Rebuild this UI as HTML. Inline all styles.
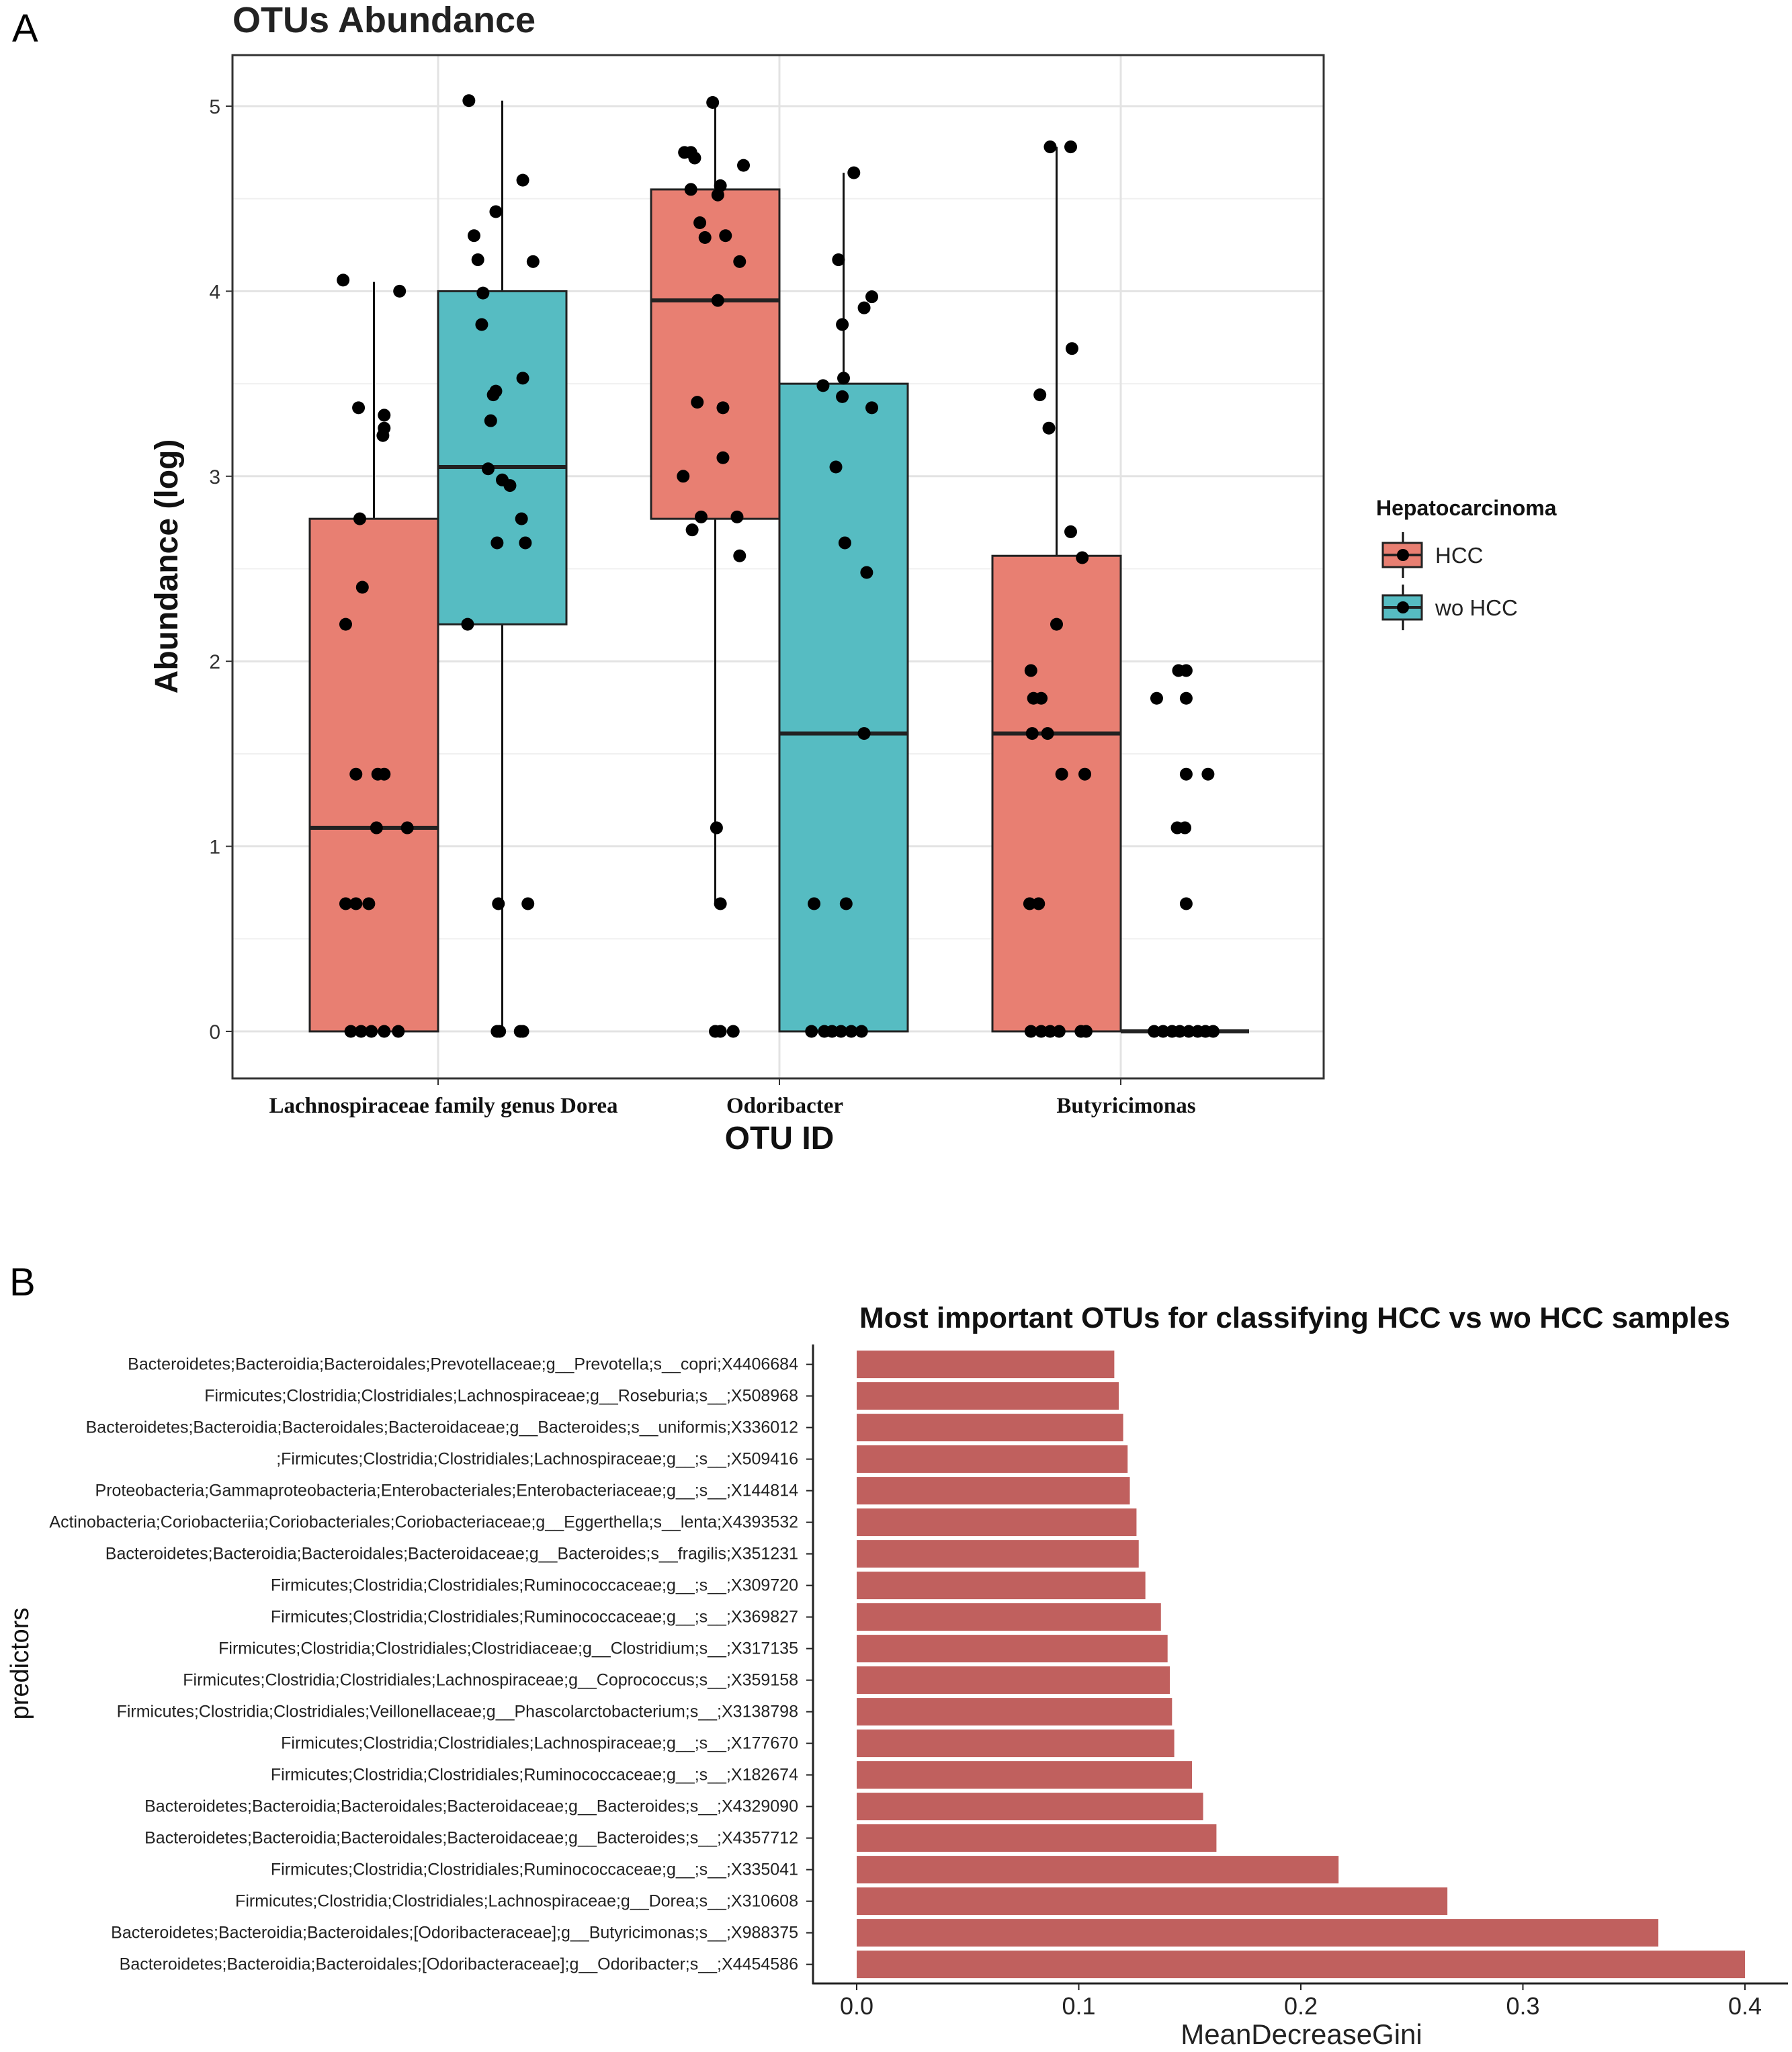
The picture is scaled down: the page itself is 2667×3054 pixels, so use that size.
<!DOCTYPE html>
<html><head><meta charset="utf-8">
<style>
html,body{margin:0;padding:0;background:#fff;}
svg{display:block;font-family:"Liberation Sans",sans-serif;}
</style></head>
<body>
<svg id="chart" width="2667" height="3054" viewBox="0 0 2667 3054" xmlns="http://www.w3.org/2000/svg">
<text x="18" y="62" font-size="58">A</text>
<text x="346" y="48" font-size="54" font-weight="bold" fill="#222">OTUs Abundance</text>
<g id="panelA"></g>
<text transform="translate(264,843) rotate(-90)" text-anchor="middle" font-size="48" font-weight="bold" fill="#111">Abundance (log)</text>
<text x="1160" y="1710" text-anchor="middle" font-size="48" font-weight="bold" fill="#111">OTU ID</text>
<g>
<text x="2048" y="767" font-size="32" font-weight="bold" fill="#111">Hepatocarcinoma</text>
<g>
<line x1="2088" y1="792" x2="2088" y2="860" stroke="#111" stroke-width="3"/>
<rect x="2058" y="808" width="58" height="36" fill="#e87f72" stroke="#222" stroke-width="3"/>
<line x1="2058" y1="826" x2="2116" y2="826" stroke="#222" stroke-width="4"/>
<circle cx="2088" cy="826" r="9" fill="#000"/>
<text x="2136" y="838" font-size="33" fill="#222">HCC</text></g>
<g>
<line x1="2088" y1="870" x2="2088" y2="938" stroke="#111" stroke-width="3"/>
<rect x="2058" y="886" width="58" height="36" fill="#56bcc2" stroke="#222" stroke-width="3"/>
<line x1="2058" y1="904" x2="2116" y2="904" stroke="#222" stroke-width="4"/>
<circle cx="2088" cy="904" r="9" fill="#000"/>
<text x="2136" y="916" font-size="33" fill="#222">wo HCC</text></g>
</g>
<text x="14" y="1928" font-size="58">B</text>
<text x="1279" y="1976" font-size="44" font-weight="bold" fill="#111">Most important OTUs for classifying HCC vs wo HCC samples</text>
<g id="panelB"></g>
<text transform="translate(42,2476) rotate(-90)" text-anchor="middle" font-size="38" fill="#111">predictors</text>
<text x="1937" y="3042" text-anchor="middle" font-size="42" fill="#222">MeanDecreaseGini</text>
</svg>
<script>
// ---------- Panel A data ----------
const categories = ["Lachnospiraceae family genus Dorea","Odoribacter","Butyricimonas"];
const groups = ["HCC","wo HCC"];
const yTicks = [0,1,2,3,4,5];
// box stats per [category][group]: [whiskerLow, q1, median, q3, whiskerHigh]
const boxHCC = [[0,0,1.1,2.77,4.05],[0.69,2.77,3.95,4.55,5.02],[0,0,1.61,2.57,4.78]];
const boxWo  = [[0,2.2,3.05,4.0,5.03],[0,0,1.61,3.5,4.64],[0,0,0,0,0]];
const ptsHCC_vals = [
 [4.06,3.37,3.33,3.22,3.26,4.0,2.77,2.4,2.2,1.39,1.39,1.39,1.1,1.1,0.69,0.69,0.69,0,0,0,0,0],
 [5.02,4.75,4.75,4.72,4.68,4.55,4.57,4.52,4.37,4.29,4.3,4.16,3.95,3.4,3.37,3.0,3.1,2.78,2.78,2.71,2.57,1.1,0.69,0,0,0],
 [4.78,4.78,3.44,3.69,3.26,2.7,2.56,2.2,1.95,1.8,1.8,1.61,1.61,1.39,1.39,0.69,0.69,0,0,0,0,0,0]];
const ptsHCC_jit = [
 [-0.24,-0.12,0.08,0.07,0.08,0.2,-0.11,-0.09,-0.22,-0.14,0.03,0.08,0.02,0.26,-0.22,-0.14,-0.04,-0.18,-0.1,-0.02,0.08,0.19],
 [-0.02,-0.24,-0.19,-0.16,0.22,-0.19,0.04,0.02,-0.12,-0.08,0.08,0.19,0.02,-0.14,0.06,-0.25,0.06,-0.11,0.17,-0.18,0.19,0.01,0.04,0,0.04,0.14],
 [-0.05,0.11,-0.13,0.12,-0.06,0.11,0.2,0,-0.2,-0.18,-0.12,-0.19,-0.07,0.04,0.22,-0.21,-0.14,-0.2,-0.12,-0.05,0.02,0.19,0.23]];
const ptsWo_vals = [
 [5.03,4.6,4.43,4.3,4.17,4.16,3.99,3.82,3.53,3.44,3.46,3.3,3.04,2.98,2.95,2.77,2.64,2.64,2.2,0.69,0.69,0,0,0,0],
 [4.64,4.17,3.82,3.97,3.91,3.53,3.43,3.49,3.37,3.05,2.64,2.48,1.61,0.69,0.69,0,0,0,0,0,0],
 [1.95,1.95,1.8,1.8,1.39,1.39,1.1,1.1,0.69,0,0,0,0,0,0,0,0]];
const ptsWo_jit = [
 [-0.26,0.16,-0.05,-0.22,-0.19,0.24,-0.15,-0.16,0.16,-0.07,-0.05,-0.09,-0.11,0,0.06,0.15,-0.04,0.18,-0.27,-0.03,0.2,-0.04,-0.02,0.14,0.16],
 [0.08,-0.04,-0.01,0.22,0.16,0,-0.01,-0.16,0.22,-0.06,0.01,0.18,0.16,-0.23,0.02,-0.25,-0.15,-0.09,-0.02,0.06,0.14],
 [-0.05,0.01,-0.22,0.01,0.01,0.18,-0.06,0,0.01,-0.24,-0.17,-0.1,-0.04,0.03,0.1,0.16,0.22]];

// ---------- Panel B data ----------
const predictors = [
"Bacteroidetes;Bacteroidia;Bacteroidales;Prevotellaceae;g__Prevotella;s__copri;X4406684",
"Firmicutes;Clostridia;Clostridiales;Lachnospiraceae;g__Roseburia;s__;X508968",
"Bacteroidetes;Bacteroidia;Bacteroidales;Bacteroidaceae;g__Bacteroides;s__uniformis;X336012",
";Firmicutes;Clostridia;Clostridiales;Lachnospiraceae;g__;s__;X509416",
"Proteobacteria;Gammaproteobacteria;Enterobacteriales;Enterobacteriaceae;g__;s__;X144814",
"Actinobacteria;Coriobacteriia;Coriobacteriales;Coriobacteriaceae;g__Eggerthella;s__lenta;X4393532",
"Bacteroidetes;Bacteroidia;Bacteroidales;Bacteroidaceae;g__Bacteroides;s__fragilis;X351231",
"Firmicutes;Clostridia;Clostridiales;Ruminococcaceae;g__;s__;X309720",
"Firmicutes;Clostridia;Clostridiales;Ruminococcaceae;g__;s__;X369827",
"Firmicutes;Clostridia;Clostridiales;Clostridiaceae;g__Clostridium;s__;X317135",
"Firmicutes;Clostridia;Clostridiales;Lachnospiraceae;g__Coprococcus;s__;X359158",
"Firmicutes;Clostridia;Clostridiales;Veillonellaceae;g__Phascolarctobacterium;s__;X3138798",
"Firmicutes;Clostridia;Clostridiales;Lachnospiraceae;g__;s__;X177670",
"Firmicutes;Clostridia;Clostridiales;Ruminococcaceae;g__;s__;X182674",
"Bacteroidetes;Bacteroidia;Bacteroidales;Bacteroidaceae;g__Bacteroides;s__;X4329090",
"Bacteroidetes;Bacteroidia;Bacteroidales;Bacteroidaceae;g__Bacteroides;s__;X4357712",
"Firmicutes;Clostridia;Clostridiales;Ruminococcaceae;g__;s__;X335041",
"Firmicutes;Clostridia;Clostridiales;Lachnospiraceae;g__Dorea;s__;X310608",
"Bacteroidetes;Bacteroidia;Bacteroidales;[Odoribacteraceae];g__Butyricimonas;s__;X988375",
"Bacteroidetes;Bacteroidia;Bacteroidales;[Odoribacteraceae];g__Odoribacter;s__;X4454586"];
const giniValues = [0.116,0.118,0.120,0.122,0.123,0.126,0.127,0.130,0.137,0.140,0.141,0.142,0.143,0.151,0.156,0.162,0.217,0.266,0.361,0.400];
const giniTicks = [0.0,0.1,0.2,0.3,0.4];
const giniTickLabels = ["0.0","0.1","0.2","0.3","0.4"];

const NS="http://www.w3.org/2000/svg";
function mk(tag,attrs,parent,text){const e=document.createElementNS(NS,tag);for(const k in attrs)e.setAttribute(k,attrs[k]);if(text!==undefined)e.textContent=text;parent.appendChild(e);return e;}

(function(){
 const g=document.getElementById('panelA');
 const L=346,R=1970,T=82,B=1605;
 const yS=v=>1535-v*275.4;
 const catX=i=>652+i*508;
 const bw=191;
 const bg=mk('rect',{x:L,y:T,width:R-L,height:B-T,fill:'#fff'},g);
 
 
 for(let v=0.5;v<=5.3;v+=1){mk('line',{x1:L,x2:R,y1:yS(v),y2:yS(v),stroke:'#f0f0f0','stroke-width':2},g);}
 yTicks.forEach(v=>{
  const gl=mk('line',{x1:L,x2:R,y1:yS(v),y2:yS(v),stroke:'#e3e3e3','stroke-width':3},g);
  
  
  mk('line',{x1:L-10,x2:L,y1:yS(v),y2:yS(v),stroke:'#333','stroke-width':2},g);
  const t=mk('text',{x:L-18,y:yS(v)+11,'text-anchor':'end','font-size':30,fill:'#333'},g,String(v));
  
  
 });
 categories.forEach((c,i)=>{
  mk('line',{x1:catX(i),x2:catX(i),y1:T,y2:B,stroke:'#e3e3e3','stroke-width':3},g);
  mk('line',{x1:catX(i),x2:catX(i),y1:B,y2:B+10,stroke:'#333','stroke-width':2},g);
  const t=mk('text',{x:catX(i)+8,y:1656,'text-anchor':'middle','font-size':33,'font-weight':'bold','font-family':'Liberation Serif, serif',fill:'#111'},g,c);
  
  
 });
 function drawBox(st,cx,fill,name){
  const bx=mk('g',{},g);
  
  
  mk('line',{x1:cx,x2:cx,y1:yS(st[4]),y2:yS(st[3]),stroke:'#111','stroke-width':3},bx);
  mk('line',{x1:cx,x2:cx,y1:yS(st[1]),y2:yS(st[0]),stroke:'#111','stroke-width':3},bx);
  const h=Math.max(yS(st[1])-yS(st[3]),0);
  mk('rect',{x:cx-bw/2,y:yS(st[3]),width:bw,height:h,fill:fill,stroke:'#222','stroke-width':3},bx);
  mk('line',{x1:cx-bw/2,x2:cx+bw/2,y1:yS(st[2]),y2:yS(st[2]),stroke:'#222','stroke-width':6},bx);
 }
 function drawPts(vals,jit,cx,name){
  vals.forEach((v,k)=>{
   const c=mk('circle',{cx:cx+jit[k]*bw,cy:yS(v),r:9.5,fill:'#000'},g);
   
   
  });
 }
 categories.forEach((c,i)=>{
  drawBox(boxHCC[i],catX(i)-bw/2,'#e87f72','box-hcc-'+i);
  drawBox(boxWo[i],catX(i)+bw/2,'#56bcc2','box-wo-hcc-'+i);
 });
 categories.forEach((c,i)=>{
  drawPts(ptsHCC_vals[i],ptsHCC_jit[i],catX(i)-bw/2,'point-hcc');
  drawPts(ptsWo_vals[i],ptsWo_jit[i],catX(i)+bw/2,'point-wo-hcc');
 });
 mk('rect',{x:L,y:T,width:R-L,height:B-T,fill:'none',stroke:'#333','stroke-width':3},g);
})();

(function(){
 const g=document.getElementById('panelB');
 const x0=1275, xk=3305;
 const xS=v=>x0+v*xk;
 const yC=i=>2030.6+i*47;
 const bh=41;
 predictors.forEach((p,i)=>{
  const b=mk('rect',{x:xS(0),y:yC(i)-bh/2,width:xS(giniValues[i])-xS(0),height:bh,fill:'#c0605e'},g);
  
  
  mk('line',{x1:1200,x2:1210,y1:yC(i),y2:yC(i),stroke:'#222','stroke-width':2},g);
  const t=mk('text',{x:1188,y:yC(i)+8,'text-anchor':'end','font-size':25,fill:'#222'},g,p);
  
  
 });
 mk('line',{x1:1210,x2:1210,y1:2001,y2:2953,stroke:'#222','stroke-width':3},g);
 mk('line',{x1:1209,x2:2661,y1:2952,y2:2952,stroke:'#222','stroke-width':3},g);
 giniTicks.forEach((v,k)=>{
  mk('line',{x1:xS(v),x2:xS(v),y1:2952,y2:2962,stroke:'#222','stroke-width':2},g);
  const t=mk('text',{x:xS(v),y:2998,'text-anchor':'middle','font-size':36,fill:'#222'},g,giniTickLabels[k]);
  
  
 });
})();
</script>
</body></html>
